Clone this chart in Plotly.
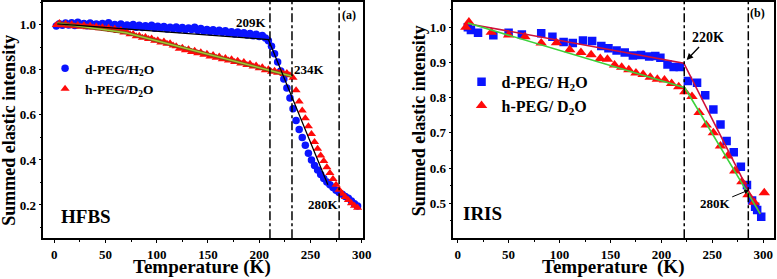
import plotly.graph_objects as go

# ---------------- HFBS (panel a) ----------------
hfbs_T = [2, 5, 8, 11, 14, 17, 20, 23, 26, 29, 32, 35, 38, 41, 44, 47, 50, 53, 56, 59,
          62, 65, 68, 71, 74, 77, 80, 83, 86, 89, 92, 95, 98, 101, 104, 107, 110, 113, 116, 119,
          122, 125, 128, 131, 134, 137, 140, 143, 146, 149, 152, 155, 158, 161, 164, 167, 170, 173, 176, 179,
          182, 185, 188, 191, 194, 197, 200, 203, 206, 209, 212, 215, 218, 221, 224, 227, 230, 233, 236, 239,
          242, 245, 248, 251, 254, 257, 260, 263, 266, 269, 272, 275, 278, 281, 284, 287, 290, 293, 296]

hfbs_d_PEG_H2O = [0.995, 1.005, 0.998, 1.008, 1.0, 1.01, 0.997, 1.012, 1.002, 1.006, 0.996, 1.008, 1.0, 1.004, 0.994, 1.006, 0.998, 1.01, 0.993, 1.002,
                  0.996, 1.004, 0.99, 1.0, 0.993, 1.002, 0.99, 0.998, 0.988, 0.996, 0.99, 0.998, 0.985, 0.994, 0.986, 0.993, 0.982, 0.99, 0.983, 0.991,
                  0.98, 0.988, 0.978, 0.986, 0.98, 0.99, 0.975, 0.984, 0.972, 0.98, 0.97, 0.978, 0.968, 0.976, 0.966, 0.974, 0.963, 0.97, 0.96, 0.968,
                  0.958, 0.965, 0.955, 0.962, 0.952, 0.958, 0.948, 0.953, 0.942, 0.93, 0.905, 0.872, 0.835, 0.795, 0.76, 0.72, 0.675, 0.628, 0.575, 0.535,
                  0.5, 0.465, 0.43, 0.4, 0.375, 0.355, 0.335, 0.318, 0.302, 0.29, 0.278, 0.265, 0.255, 0.248, 0.238, 0.23, 0.218, 0.205, 0.195]

hfbs_h_PEG_D2O = [1.0, 1.008, 0.998, 1.005, 0.996, 1.003, 0.994, 1.0, 0.992, 0.998, 0.99, 0.996, 0.988, 0.993, 0.985, 0.99, 0.982, 0.987, 0.978, 0.983,
                  0.973, 0.977, 0.966, 0.968, 0.958, 0.96, 0.95, 0.952, 0.943, 0.946, 0.937, 0.94, 0.93, 0.932, 0.922, 0.926, 0.916, 0.919, 0.909, 0.905,
                  0.894, 0.898, 0.887, 0.892, 0.88, 0.885, 0.874, 0.878, 0.867, 0.872, 0.86, 0.866, 0.854, 0.86, 0.847, 0.853, 0.842, 0.847, 0.835, 0.841,
                  0.829, 0.835, 0.822, 0.828, 0.815, 0.82, 0.807, 0.812, 0.799, 0.803, 0.792, 0.796, 0.788, 0.792, 0.782, 0.786, 0.776, 0.765, 0.71, 0.66,
                  0.62, 0.585, 0.55, 0.515, 0.48, 0.45, 0.42, 0.395, 0.368, 0.342, 0.315, 0.29, 0.268, 0.25, 0.235, 0.222, 0.208, 0.197, 0.188]

hfbs_d_fit_T = [3, 209, 267]
hfbs_d_fit_v = [1.005, 0.935, 0.29]
hfbs_h_fit_T = [3, 70, 232]
hfbs_h_fit_v = [1.008, 0.965, 0.772]
hfbs_vlines = [210.5, 232, 278]

# ---------------- IRIS (panel b) ----------------
iris_d_T = [10, 13, 20, 35, 50, 63, 82, 93, 104, 113, 123, 132, 141, 148, 156, 164, 172, 180, 188, 194,
            199, 206, 212, 218, 226, 235, 243, 251, 258, 264, 271, 278, 284, 289, 292, 294, 298]
iris_d_PEG_H2O = [1.0, 0.992, 0.984, 0.977, 0.984, 0.979, 0.983, 0.973, 0.958, 0.955, 0.962, 0.961, 0.947, 0.94, 0.934, 0.928, 0.92, 0.921, 0.917, 0.918,
                  0.913, 0.894, 0.887, 0.887, 0.847, 0.842, 0.807, 0.766, 0.724, 0.677, 0.645, 0.604, 0.552, 0.508, 0.49, 0.481, 0.462]

iris_h_T = [8, 11, 33, 50, 66, 82, 97, 110, 121, 131, 140, 147, 154, 161, 168, 175, 182, 189, 196, 203,
            210, 217, 223, 230, 237, 244, 251, 258, 265, 272, 279, 285, 291, 301]
iris_h_PEG_D2O = [1.0, 1.015, 0.986, 0.978, 0.973, 0.955, 0.956, 0.936, 0.928, 0.922, 0.911, 0.909, 0.893, 0.886, 0.879, 0.87, 0.866, 0.858, 0.852, 0.85,
                  0.84, 0.831, 0.817, 0.803, 0.758, 0.722, 0.7, 0.663, 0.634, 0.592, 0.561, 0.524, 0.503, 0.53]

iris_d_fit_T = [10, 222, 297]
iris_d_fit_v = [1.01, 0.898, 0.47]
iris_h_fit_T = [10, 223, 297]
iris_h_fit_v = [1.012, 0.828, 0.47]
iris_vlines = [222.4, 285.3]

FONT = "Liberation Serif"
BLUE = "#0a14ff"
RED = "#ff0a0a"

fig = go.Figure()

# panel a
fig.add_trace(go.Scatter(x=hfbs_T, y=hfbs_d_PEG_H2O, mode="markers", xaxis="x", yaxis="y",
                         marker=dict(symbol="circle", size=7.5, color=BLUE),
                         name="d-PEG/H<sub>2</sub>O", legend="legend"))
fig.add_trace(go.Scatter(x=hfbs_T, y=hfbs_h_PEG_D2O, mode="markers", xaxis="x", yaxis="y",
                         marker=dict(symbol="triangle-up", size=8, color=RED),
                         name="h-PEG/D<sub>2</sub>O", legend="legend"))
fig.add_trace(go.Scatter(x=hfbs_h_fit_T, y=hfbs_h_fit_v, mode="lines", xaxis="x", yaxis="y",
                         line=dict(color="#8b4a1a", width=3.2), showlegend=False, hoverinfo="skip"))
fig.add_trace(go.Scatter(x=hfbs_h_fit_T, y=hfbs_h_fit_v, mode="lines", xaxis="x", yaxis="y",
                         line=dict(color="#9acd32", width=1.4), showlegend=False, hoverinfo="skip"))
fig.add_trace(go.Scatter(x=hfbs_d_fit_T, y=hfbs_d_fit_v, mode="lines", xaxis="x", yaxis="y",
                         line=dict(color="black", width=1.3), showlegend=False, hoverinfo="skip"))

# panel b
fig.add_trace(go.Scatter(x=iris_d_T, y=iris_d_PEG_H2O, mode="markers", xaxis="x2", yaxis="y2",
                         marker=dict(symbol="square", size=8.5, color=BLUE),
                         name="d-PEG/ H<sub>2</sub>O", legend="legend2"))
fig.add_trace(go.Scatter(x=iris_h_T, y=iris_h_PEG_D2O, mode="markers", xaxis="x2", yaxis="y2",
                         marker=dict(symbol="triangle-up", size=10, color=RED),
                         name="h-PEG/ D<sub>2</sub>O", legend="legend2"))
fig.add_trace(go.Scatter(x=iris_d_fit_T, y=iris_d_fit_v, mode="lines", xaxis="x2", yaxis="y2",
                         line=dict(color="#d0103a", width=1.6), showlegend=False, hoverinfo="skip"))
fig.add_trace(go.Scatter(x=iris_h_fit_T, y=iris_h_fit_v, mode="lines", xaxis="x2", yaxis="y2",
                         line=dict(color="#3cd23c", width=1.6), showlegend=False, hoverinfo="skip"))

shapes = []
for xv in hfbs_vlines:
    shapes.append(dict(type="line", xref="x", yref="y domain", x0=xv, x1=xv, y0=0, y1=1,
                       line=dict(color="black", width=1.5, dash="dashdot")))
for xv in iris_vlines:
    shapes.append(dict(type="line", xref="x2", yref="y2 domain", x0=xv, x1=xv, y0=0, y1=1,
                       line=dict(color="black", width=1.5, dash="dashdot")))

tickfont = dict(family=FONT, size=13, color="black", weight="bold")
axis_common = dict(showline=True, mirror=True, linecolor="black", linewidth=1.5,
                   ticks="outside", ticklen=3, tickwidth=1.3, tickcolor="black",
                   showgrid=False, zeroline=False, tickfont=tickfont, automargin=False)

def ann(text, x, y, xref, yref, size, **kw):
    d = dict(text=text, x=x, y=y, xref=xref, yref=yref, showarrow=False,
             xanchor="center", yanchor="middle",
             font=dict(family=FONT, size=size, color="black", weight="bold"))
    d.update(kw)
    return d

annotations = [
    ann("209K", 192.9, 1.010, "x", "y", 13),
    ann("234K", 249.5, 0.804, "x", "y", 13),
    ann("280K", 263.2, 0.204, "x", "y", 13),
    ann("(a)", 287.6, 1.044, "x", "y", 12),
    ann("HFBS", 31, 0.147, "x", "y", 19),
    ann("(b)", 294.8, 1.041, "x2", "y2", 12),
    ann("IRIS", 24.3, 0.472, "x2", "y2", 19),
    dict(text="220K", x=224.8, y=0.907, xref="x2", yref="y2", showarrow=True,
         ax=21, ay=-22, arrowhead=2, arrowsize=1, arrowwidth=1.3, arrowcolor="black",
         font=dict(family=FONT, size=14, color="black", weight="bold")),
    dict(text="280K", x=286.2, y=0.538, xref="x2", yref="y2", showarrow=True,
         ax=-34, ay=14, arrowhead=2, arrowsize=1, arrowwidth=1.0, arrowcolor="black",
         font=dict(family=FONT, size=13, color="black", weight="bold")),
    ann("Temperature (K)", 0.2606, 0.042, "paper", "paper", 19),
    ann("Temperature  (K)", 0.7883, 0.042, "paper", "paper", 19),
    ann("Summed elastic intensity", 0.0116, 0.531, "paper", "paper", 18, textangle=-90),
    ann("Summed elastic intensity", 0.5384, 0.567, "paper", "paper", 18, textangle=-90),
]

legfont = dict(family=FONT, size=13.5, color="black", weight="bold")
fig.update_layout(
    template="none",
    width=777, height=279,
    margin=dict(l=0, r=0, t=0, b=0, pad=0),
    paper_bgcolor="white", plot_bgcolor="white",
    xaxis=dict(domain=[0.0557, 0.4668], range=[-10.7, 301], anchor="y",
               tickvals=[0, 50, 100, 150, 200, 250, 300],
               minor=dict(dtick=25, tick0=0, ticks="outside", ticklen=2, tickcolor="black"),
               **axis_common),
    yaxis=dict(domain=[0.146, 0.9946], range=[0.052, 1.104], anchor="x",
               tickvals=[0.2, 0.4, 0.6, 0.8, 1.0], tickformat=".1f",
               minor=dict(dtick=0.1, tick0=0, ticks="outside", ticklen=2, tickcolor="black"),
               **axis_common),
    xaxis2=dict(domain=[0.5834, 0.9961], range=[-4.3, 310.5], anchor="y2",
                tickvals=[0, 50, 100, 150, 200, 250, 300],
                minor=dict(dtick=25, tick0=0, ticks="outside", ticklen=2, tickcolor="black"),
                **axis_common),
    yaxis2=dict(domain=[0.146, 0.9946], range=[0.4006, 1.073], anchor="x2",
                tickvals=[0.5, 0.6, 0.7, 0.8, 0.9, 1.0], tickformat=".1f",
                minor=dict(dtick=0.05, tick0=0, ticks="outside", ticklen=2, tickcolor="black"),
                **axis_common),
    legend=dict(x=0.058, y=0.81, xanchor="left", yanchor="top", bgcolor="rgba(0,0,0,0)",
                font=legfont, tracegroupgap=0, itemwidth=30),
    legend2=dict(x=0.594, y=0.768, xanchor="left", yanchor="top", bgcolor="rgba(0,0,0,0)",
                 font=dict(family=FONT, size=16, color="black", weight="bold"), itemwidth=30),
    shapes=shapes,
    annotations=annotations,
)

fig.write_html("out.html", config={"displayModeBar": False},
               post_script="document.body.style.margin='0px';document.body.style.overflow='hidden';")
